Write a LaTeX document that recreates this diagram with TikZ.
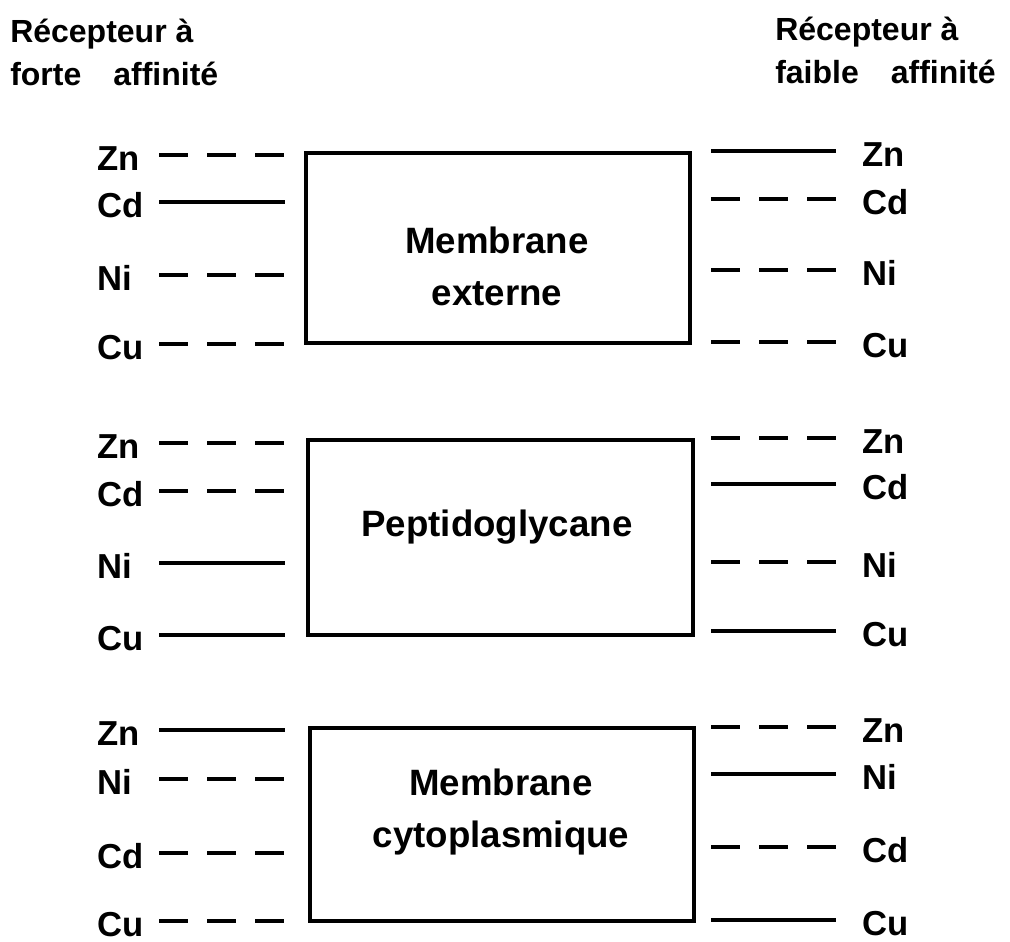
\documentclass[tikz,border=0pt]{standalone}
\usepackage{fontspec}
\setmainfont{Liberation Sans}
\begin{document}
\begin{tikzpicture}[x=0.75pt,y=-0.75pt,
  lbl/.style={anchor=base west,inner sep=0pt,font=\fontsize{26}{30}\selectfont\bfseries},
  ttl/.style={anchor=base west,inner sep=0pt,font=\fontsize{24}{30}\selectfont\bfseries},
  boxtxt/.style={inner sep=0pt,align=center,font=\fontsize{27.5}{39}\selectfont\bfseries},
  full/.style={line width=2.8pt},
  dsh/.style={line width=2.8pt,dash pattern=on 21.5pt off 14.5pt},
  layer/.style={draw,line width=2.9pt}]
\useasboundingbox (0,0) rectangle (1010,942);
% titles
\node[ttl] (tl1) at (10,43) {R\'ecepteur \`a};
\node[ttl] (tl2) at (10,86) {forte\hspace{24pt}affinit\'e};
\node[ttl] (tr1) at (775,41) {R\'ecepteur \`a};
\node[ttl] (tr2) at (775,84) {faible\hspace{24pt}affinit\'e};
% boxes
\draw[layer] (306,153) rectangle (690,343);
\node[boxtxt] (b1) at (497,266) {Membrane\\externe};
\draw[layer] (308,440) rectangle (693,635);
\node[boxtxt] (b2) at (497,527) {Peptidoglycane};
\draw[layer] (310,728) rectangle (694,921);
\node[boxtxt] (b3) at (501,812) {Membrane\\cytoplasmique};
% helper: left and right lines
\newcommand{\leftrow}[4]{% name, y, label, style
  \node[lbl] (L#1) at (97,#2+15) {#3};
  \coordinate (La#1) at (159,#2); \coordinate (Lb#1) at (285,#2);
  \draw[#4] (La#1) -- (Lb#1);}
\newcommand{\rightrow}[4]{%
  \node[lbl] (R#1) at (862,#2+15) {#3};
  \coordinate (Ra#1) at (711,#2); \coordinate (Rb#1) at (836,#2);
  \draw[#4] (Ra#1) -- (Rb#1);}
% block 1
\leftrow{1a}{155}{Zn}{dsh}
\leftrow{1b}{202}{Cd}{full}
\leftrow{1c}{275}{Ni}{dsh}
\leftrow{1d}{344}{Cu}{dsh}
\rightrow{1a}{151}{Zn}{full}
\rightrow{1b}{199}{Cd}{dsh}
\rightrow{1c}{270}{Ni}{dsh}
\rightrow{1d}{342}{Cu}{dsh}
% block 2
\leftrow{2a}{443}{Zn}{dsh}
\leftrow{2b}{491}{Cd}{dsh}
\leftrow{2c}{563}{Ni}{full}
\leftrow{2d}{635}{Cu}{full}
\rightrow{2a}{438}{Zn}{dsh}
\rightrow{2b}{484}{Cd}{full}
\rightrow{2c}{562}{Ni}{dsh}
\rightrow{2d}{631}{Cu}{full}
% block 3
\leftrow{3a}{730}{Zn}{full}
\leftrow{3b}{779}{Ni}{dsh}
\leftrow{3c}{853}{Cd}{dsh}
\leftrow{3d}{921}{Cu}{dsh}
\rightrow{3a}{727}{Zn}{dsh}
\rightrow{3b}{774}{Ni}{full}
\rightrow{3c}{847}{Cd}{dsh}
\rightrow{3d}{920}{Cu}{full}
\end{tikzpicture}
\end{document}
